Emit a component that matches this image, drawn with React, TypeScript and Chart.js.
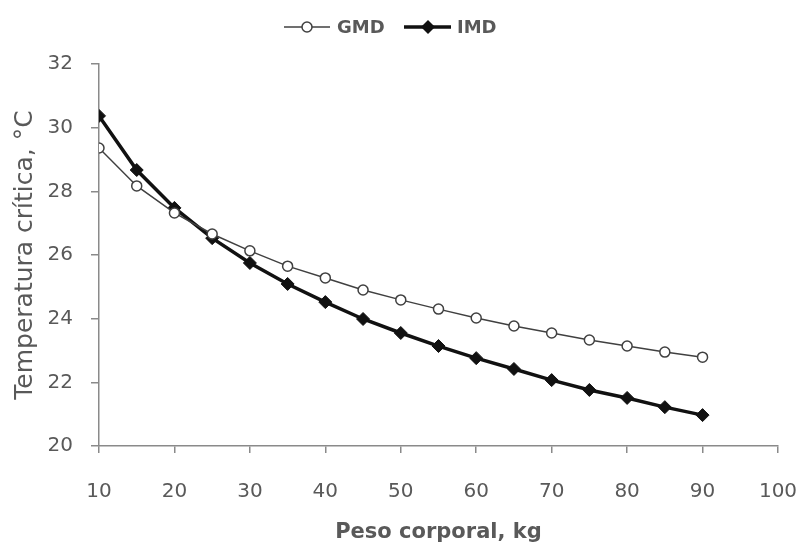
import React, { useEffect, useRef } from "react";
import { Chart, registerables } from "chart.js";

Chart.register(...registerables);

const weights = [10, 15, 20, 25, 30, 35, 40, 45, 50, 55, 60, 65, 70, 75, 80, 85, 90];
const gmd = [29.36, 28.17, 27.32, 26.66, 26.13, 25.65, 25.28, 24.9, 24.59, 24.3, 24.02, 23.77, 23.55, 23.33, 23.14, 22.95, 22.79];
const imd = [30.37, 28.67, 27.48, 26.53, 25.75, 25.09, 24.52, 23.99, 23.55, 23.14, 22.76, 22.42, 22.07, 21.76, 21.51, 21.22, 20.97];
const seriesNames = ["GMD", "IMD"];
const xTitle = "Peso corporal, kg";
const yTitle = "Temperatura crítica, °C";

const FONT = "'DejaVu Sans', Verdana, sans-serif";
const TEXT = "#595959";
const AXIS = "#8a8a8a";

const legendPlugin = {
  id: "customLegend",
  afterDraw(chart: any) {
    const ctx = chart.ctx;
    const cy = 27;
    ctx.save();
    // GMD
    ctx.strokeStyle = "#404040";
    ctx.lineWidth = 1.5;
    ctx.beginPath();
    ctx.moveTo(284, cy);
    ctx.lineTo(330, cy);
    ctx.stroke();
    ctx.fillStyle = "#ffffff";
    ctx.beginPath();
    ctx.arc(307, cy, 5, 0, Math.PI * 2);
    ctx.fill();
    ctx.stroke();
    ctx.font = `bold 18px ${FONT}`;
    ctx.fillStyle = TEXT;
    ctx.textBaseline = "middle";
    ctx.textAlign = "left";
    ctx.fillText(seriesNames[0], 337, cy + 1);
    // IMD
    ctx.strokeStyle = "#111111";
    ctx.lineWidth = 3.5;
    ctx.beginPath();
    ctx.moveTo(404, cy);
    ctx.lineTo(451, cy);
    ctx.stroke();
    ctx.fillStyle = "#111111";
    ctx.beginPath();
    ctx.moveTo(428, cy - 7);
    ctx.lineTo(435, cy);
    ctx.lineTo(428, cy + 7);
    ctx.lineTo(421, cy);
    ctx.closePath();
    ctx.fill();
    ctx.fillStyle = TEXT;
    ctx.fillText(seriesNames[1], 457, cy + 1);
    ctx.restore();
  },
};

export default function App() {
  const ref = useRef<HTMLCanvasElement | null>(null);
  useEffect(() => {
    if (!ref.current) return;
    const chart = new Chart(ref.current, {
      type: "line",
      data: {
        datasets: [
          {
            label: seriesNames[0],
            data: weights.map((w, i) => ({ x: w, y: gmd[i] })),
            borderColor: "#404040",
            borderWidth: 1.5,
            pointStyle: "circle",
            pointRadius: 5,
            pointBorderWidth: 1.5,
            pointBackgroundColor: "#ffffff",
            pointBorderColor: "#404040",
            tension: 0,
          },
          {
            label: seriesNames[1],
            data: weights.map((w, i) => ({ x: w, y: imd[i] })),
            borderColor: "#111111",
            borderWidth: 3.5,
            pointStyle: "rectRot",
            pointRadius: 6.5,
            pointBorderWidth: 1,
            pointBackgroundColor: "#111111",
            pointBorderColor: "#111111",
            tension: 0,
          },
        ],
      },
      options: {
        responsive: false,
        animation: false,
        layout: { padding: { top: 64, right: 24, left: 0, bottom: 0 } },
        plugins: { legend: { display: false }, tooltip: { enabled: false } },
        scales: {
          x: {
            type: "linear",
            min: 10,
            max: 100,
            afterFit: (s: any) => { s.height = 102; s.paddingRight = 0; s.paddingLeft = 0; },
            ticks: { stepSize: 10, color: TEXT, font: { family: FONT, size: 20 }, padding: 27, maxRotation: 0 },
            grid: { drawOnChartArea: false, drawTicks: true, tickLength: 7, color: AXIS, lineWidth: 1.5 },
            border: { display: true, color: AXIS, width: 1.5 },
            title: {
              display: true,
              text: xTitle,
              color: TEXT,
              font: { family: FONT, size: 21, weight: "bold" },
              padding: { top: 0, bottom: 3 },
            },
          },
          y: {
            type: "linear",
            min: 20,
            max: 32,
            afterFit: (s: any) => { s.width = 99; s.paddingTop = 0; s.paddingBottom = 0; },
            ticks: { stepSize: 2, color: TEXT, font: { family: FONT, size: 20 }, padding: 18 },
            grid: { drawOnChartArea: false, drawTicks: true, tickLength: 8, color: AXIS, lineWidth: 1.5 },
            border: { display: true, color: AXIS, width: 1.5 },
            title: {
              display: true,
              text: yTitle,
              color: TEXT,
              font: { family: FONT, size: 25 },
              padding: { top: 10, bottom: 0 },
            },
          },
        },
      },
      plugins: [legendPlugin],
    } as any);
    return () => chart.destroy();
  }, []);
  return (
    <div style={{ position: "fixed", left: 0, top: 0, width: 802, height: 548, background: "#fff" }}>
      <canvas ref={ref} width={802} height={548} />
    </div>
  );
}
